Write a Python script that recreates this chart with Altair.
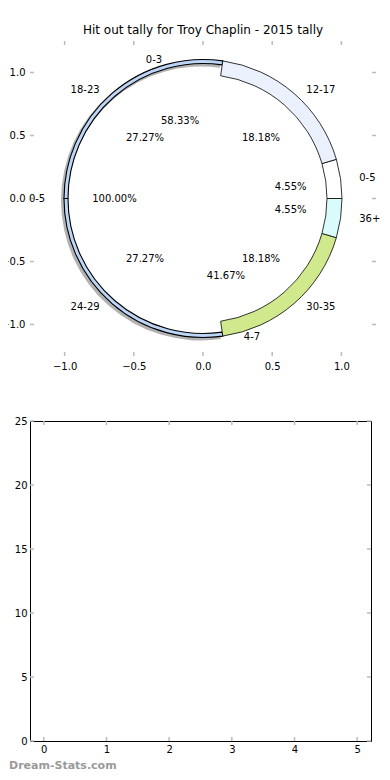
import math
import altair as alt
import pandas as pd

TITLE = "Hit out tally for Troy Chaplin - 2015 tally"
WATERMARK = "Dream-Stats.com"

# ring data
outer_labels = ["0-5", "12-17", "18-23", "24-29", "30-35", "36+"]
outer_counts = [1, 4, 6, 6, 4, 1]
middle_labels = ["0-3", "4-7"]
middle_counts = [7, 5]
inner_labels = ["0-5"]
inner_counts = [1]

pie_ticks = [-1.0, -0.5, 0.0, 0.5, 1.0]
bar_x_ticks = [0, 1, 2, 3, 4, 5]
bar_y_ticks = [0, 5, 10, 15, 20, 25]

# styles
outer_colors = ["#ffffff", "#eaf1fc", "#bdd5f6", "#bdd5f6", "#d0e98c", "#dafbfb"]
thin_labels = ["18-23", "24-29"]
FONT = "DejaVu Sans"
TICK_COLOR = "#bbbbbb"
PIE_W, PIE_H = 346, 315
BAR_W, BAR_H = 341, 320
R_OUT, R_IN_THICK, R_IN_THIN = 139, 124, 135

rows = []
for ring, labs, cnts in [("outer", outer_labels, outer_counts),
                         ("middle", middle_labels, middle_counts),
                         ("inner", inner_labels, inner_counts)]:
    for i, (lab, cnt) in enumerate(zip(labs, cnts)):
        rows.append({"ring": ring, "idx": i, "label": lab, "count": cnt})
pie_df = pd.DataFrame(rows)

xs = alt.Scale(domain=[-1.25, 1.25], nice=False, zero=False)
ys = alt.Scale(domain=[-1.25, 1.25], nice=False, zero=False)
pie_x_axis = alt.Axis(values=pie_ticks, format=".1f", ticks=False, domain=False,
                      grid=False, labelPadding=5, title=None)
pie_y_axis = alt.Axis(values=pie_ticks, format=".1f", ticks=False, domain=False,
                      grid=False, labelPadding=5, title=None)
theta_scale = alt.Scale(domain=[0, 1], range=[2.5 * math.pi, 0.5 * math.pi])

base = alt.Chart(pie_df).transform_window(
    cum="sum(count)", groupby=["ring"], sort=[alt.SortField("idx")], frame=[None, 0]
).transform_joinaggregate(
    total="sum(count)", groupby=["ring"]
).transform_calculate(
    t0="(datum.cum - datum.count) / datum.total",
    t1="datum.cum / datum.total",
    ang="PI * (2 * datum.cum - datum.count) / datum.total",
    pct="format(100 * datum.count / datum.total, '.2f') + '%'",
    lx="1.14 * cos(datum.ang)",
    ly="1.14 * sin(datum.ang)",
    px="0.64 * cos(datum.ang)",
    py="0.64 * sin(datum.ang)",
)

outer = base.transform_filter(alt.datum.ring == "outer")
thick = outer.transform_filter(
    alt.FieldOneOfPredicate(field="label", oneOf=[l for l in outer_labels if l not in thin_labels]))
thin = outer.transform_filter(alt.FieldOneOfPredicate(field="label", oneOf=thin_labels))

arc_enc = dict(
    x=alt.XDatum(0, type="quantitative", scale=xs, axis=pie_x_axis),
    y=alt.YDatum(0, type="quantitative", scale=ys, axis=pie_y_axis),
    theta=alt.Theta("t0:Q", scale=theta_scale),
    theta2="t1:Q",
)
color_enc = alt.Color("label:N", scale=alt.Scale(domain=outer_labels, range=outer_colors), legend=None)

thin_shadow = thin.mark_arc(radius=R_OUT + 1, radius2=R_IN_THIN - 1, fill="#555555", opacity=0.45,
                            xOffset=-2, yOffset=2).encode(**arc_enc)
thin_arcs = thin.mark_arc(radius=R_OUT, radius2=R_IN_THIN, stroke="black", strokeWidth=1.1).encode(
    color=color_enc, **arc_enc)
thick_arcs = thick.mark_arc(radius=R_OUT, radius2=R_IN_THICK, stroke="black", strokeWidth=0.8).encode(
    color=color_enc, **arc_enc)

txt = dict(font=FONT, fontSize=10, color="black", baseline="middle")
pct_text = base.mark_text(align="center", **txt).encode(
    x=alt.X("px:Q", scale=xs, axis=pie_x_axis),
    y=alt.Y("py:Q", scale=ys, axis=pie_y_axis),
    text="pct:N",
)
lab_right = base.transform_filter("datum.lx > 0").mark_text(align="left", **txt).encode(
    x=alt.X("lx:Q", scale=xs, axis=pie_x_axis),
    y=alt.Y("ly:Q", scale=ys, axis=pie_y_axis),
    text="label:N",
)
lab_left = base.transform_filter("datum.lx <= 0").mark_text(align="right", **txt).encode(
    x=alt.X("lx:Q", scale=xs, axis=pie_x_axis),
    y=alt.Y("ly:Q", scale=ys, axis=pie_y_axis),
    text="label:N",
)

pie_tick_df = pd.DataFrame({"v": pie_ticks})
rule_style = dict(color=TICK_COLOR, strokeWidth=1.5)
p_top = alt.Chart(pie_tick_df).mark_rule(**rule_style).encode(
    x=alt.X("v:Q", scale=xs, axis=pie_x_axis), y=alt.value(0), y2=alt.value(4))
p_bot = alt.Chart(pie_tick_df).mark_rule(**rule_style).encode(
    x=alt.X("v:Q", scale=xs, axis=pie_x_axis), y=alt.value(PIE_H), y2=alt.value(PIE_H - 4))
p_left = alt.Chart(pie_tick_df).mark_rule(**rule_style).encode(
    y=alt.Y("v:Q", scale=ys, axis=pie_y_axis), x=alt.value(0), x2=alt.value(4))
p_right = alt.Chart(pie_tick_df).mark_rule(**rule_style).encode(
    y=alt.Y("v:Q", scale=ys, axis=pie_y_axis), x=alt.value(PIE_W), x2=alt.value(PIE_W - 4))

pie = alt.layer(
    p_top, p_bot, p_left, p_right, thin_shadow, thin_arcs, thick_arcs, pct_text, lab_right, lab_left
).properties(
    width=PIE_W, height=PIE_H,
    title=alt.TitleParams(TITLE, fontSize=12, font=FONT, fontWeight="normal", color="black", offset=3),
)

# empty bar panel
bxs = alt.Scale(domain=[-0.22, 5.22], nice=False, zero=False)
bys = alt.Scale(domain=[0, 25], nice=False)
bar_x_axis = alt.Axis(values=bar_x_ticks, format="d", ticks=False, domain=False, grid=False,
                      labelPadding=3, title=None)
bar_y_axis = alt.Axis(values=bar_y_ticks, format="d", ticks=False, domain=False, grid=False,
                      labelPadding=3, title=None)
bx_df = pd.DataFrame({"v": bar_x_ticks})
by_df = pd.DataFrame({"v": bar_y_ticks})
b_top = alt.Chart(bx_df).mark_rule(**rule_style).encode(
    x=alt.X("v:Q", scale=bxs, axis=bar_x_axis), y=alt.value(0), y2=alt.value(4))
b_bot = alt.Chart(bx_df).mark_rule(**rule_style).encode(
    x=alt.X("v:Q", scale=bxs, axis=bar_x_axis), y=alt.value(BAR_H), y2=alt.value(BAR_H - 4))
b_left = alt.Chart(by_df).mark_rule(**rule_style).encode(
    y=alt.Y("v:Q", scale=bys, axis=bar_y_axis), x=alt.value(0), x2=alt.value(4))
b_right = alt.Chart(by_df).mark_rule(**rule_style).encode(
    y=alt.Y("v:Q", scale=bys, axis=bar_y_axis), x=alt.value(BAR_W), x2=alt.value(BAR_W - 4))
wm = alt.Chart(pd.DataFrame({"t": [WATERMARK]})).mark_text(
    align="left", baseline="middle", font=FONT, fontSize=11, fontWeight="bold", color="#9a9a9a"
).encode(x=alt.value(-21), y=alt.value(BAR_H + 25), text="t:N")

bar = alt.layer(b_top, b_bot, b_left, b_right, wm).properties(
    width=BAR_W, height=BAR_H,
    view=alt.ViewBackground(stroke="black", strokeWidth=1),
)

chart = alt.vconcat(pie, bar, spacing=43).properties(
    padding={"left": -8, "top": 15, "right": 0, "bottom": 0}
).configure(font=FONT).configure_view(stroke="transparent").configure_axis(
    labelFont=FONT, labelFontSize=10, labelColor="black"
)

chart.save("out.html", embed_options={"renderer": "svg", "actions": False})
